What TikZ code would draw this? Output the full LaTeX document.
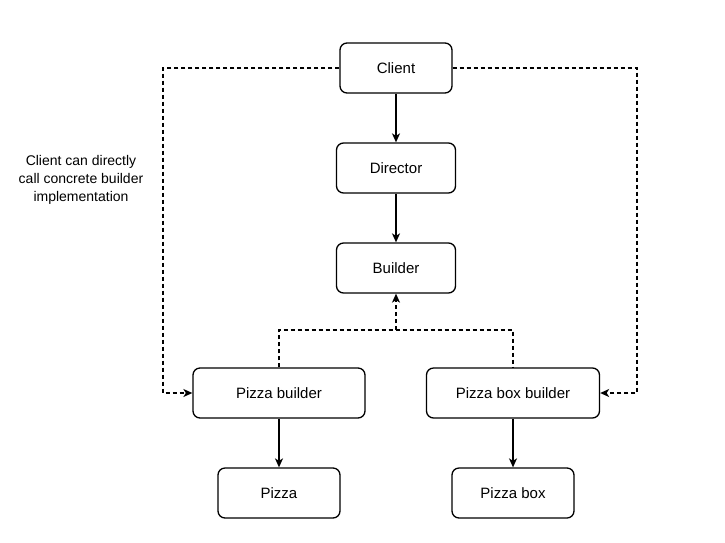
\documentclass[tikz,border=0pt]{standalone}
\usepackage{fontspec}
\setmainfont{Liberation Sans}
\usetikzlibrary{arrows.meta}
\begin{document}
\begin{tikzpicture}[x=1pt,y=-1pt,
  box/.style={draw=black,line width=1.3pt,rounded corners=7pt,fill=white,inner sep=0pt,
    font=\fontsize{15}{18}\selectfont},
  tip/.style={-{Stealth[length=9pt,width=8pt,inset=2.5pt]}},
  solidarrow/.style={line width=1.3pt,tip},
  dasharrow/.style={line width=1.3pt,dash pattern=on 4pt off 3pt,tip},
  dashline/.style={line width=1.3pt,dash pattern=on 4pt off 3pt},
  note/.style={align=center,font=\fontsize{14}{18}\selectfont}]
\useasboundingbox (0,0) rectangle (725,542);
\node[box,minimum width=112pt,minimum height=50pt] (client) at (396,68) {Client};
\node[box,minimum width=119pt,minimum height=50pt] (director) at (396,168) {Director};
\node[box,minimum width=119pt,minimum height=50pt] (builder) at (396,268) {Builder};
\node[box,minimum width=172pt,minimum height=50pt] (pb) at (279,393) {Pizza builder};
\node[box,minimum width=173pt,minimum height=50pt] (pbb) at (513,393) {Pizza box builder};
\node[box,minimum width=122pt,minimum height=50pt] (pizza) at (279,493) {Pizza};
\node[box,minimum width=122pt,minimum height=50pt] (pizzabox) at (513,493) {Pizza box};
\node[note] (txt) at (81,180) {Client can directly\\call concrete builder\\implementation};
\coordinate (junc) at (396,330);
\draw[solidarrow] (client) -- (director);
\draw[solidarrow] (director) -- (builder);
\draw[solidarrow] (pb) -- (pizza);
\draw[solidarrow] (pbb) -- (pizzabox);
\draw[dasharrow] (client.west) -- (163,68) |- (pb.west);
\draw[dasharrow] (client.east) -- (637,68) |- (pbb.east);
\draw[dashline] (pb.north) |- (junc) -| (pbb.north);
\draw[dasharrow] (junc) -- (builder.south);
\end{tikzpicture}
\end{document}
